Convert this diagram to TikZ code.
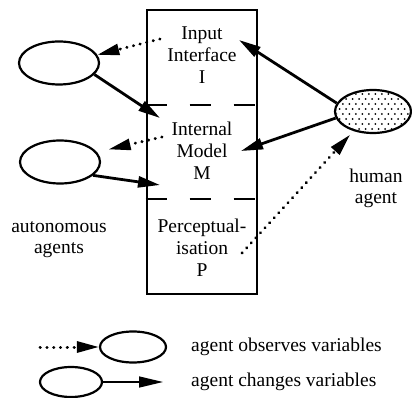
\documentclass[tikz,border=0pt]{standalone}
\usepackage{fontspec}
\setmainfont{Liberation Serif}
\usetikzlibrary{arrows.meta,shapes.geometric}
\begin{document}
\begin{tikzpicture}[x=1pt,y=-1pt,
  agent/.style={draw, line width=2.2pt, ellipse, minimum width=80pt, minimum height=43pt, inner sep=0},
  legagent/.style={draw, line width=2.2pt, ellipse, minimum width=64pt, minimum height=30pt, inner sep=0},
  boxtext/.style={align=center, inner sep=0, font=\fontsize{19.5}{22}\selectfont},
  label/.style={align=center, inner sep=0, font=\fontsize{19.5}{21}\selectfont},
  divider/.style={line width=2.4pt, dash pattern=on 21pt off 23pt},
  head/.style={-{Triangle[length=22pt,width=11pt]}},
  solidarrow/.style={head, line width=2.8pt},
  dotarrow/.style={head, line width=3pt, line cap=round, dash pattern=on 0.3pt off 6.5pt},
  ]
\useasboundingbox (0,0) rectangle (412,398);

% central box
\node[draw, line width=2.8pt, minimum width=110pt, minimum height=284pt, inner sep=0] (box) at (202,152) {};
\draw[divider] (box.west |- 0,105) -- (box.east |- 0,105);
\draw[divider] (box.west |- 0,199) -- (box.east |- 0,199);

\node[boxtext] (inp) at (202,55) {Input\\Interface\\I};
\node[boxtext] (mod) at (202,151) {Internal\\Model\\M};
\node[boxtext] (per) at (202,248) {Perceptual-\\isation\\P};

% autonomous agents
\node[agent] (a1) at (59,63) {};
\node[agent] (a2) at (60,162) {};
\node[label] (auto) at (59,240) {autonomous\\agents};

% human agent
\node[agent, minimum width=76pt, minimum height=43pt] (human) at (373,111.5) {};
\begin{scope}
  \clip (human.center) ellipse [x radius=37, y radius=20.5];
  \foreach \j in {0,...,9} {
    \foreach \i in {0,...,13} {
      \fill ({333+\i*6.5+mod(\j,2)*3.25}, {89+\j*5}) circle (1pt);
    }
  }
\end{scope}
\node[label] (hum) at (376,188) {human\\agent};

% connectors
\coordinate (d1) at (160,39);
\coordinate (s1) at (160,118);
\coordinate (d2) at (162,137);
\coordinate (s2) at (160,185);
\coordinate (h1) at (239,40);
\coordinate (h2) at (241,151);
\coordinate (d3) at (242,253);

\draw[dotarrow] (d1) -- (a1.12);
\draw[solidarrow] (a1.-18) -- (s1);
\draw[dotarrow, shorten >=12pt] (d2) -- (a2.15);
\draw[solidarrow] (a2.-22) -- (s2);
\draw[solidarrow] (human.167) -- (h1);
\draw[solidarrow] (human.190) -- (h2);
\draw[dotarrow, shorten >=5pt] (d3) -- (human.225);

% legend
\node[legagent, minimum width=66pt, minimum height=31pt] (l1) at (133,347) {};
\node[legagent, minimum width=62pt] (l2) at (71,382) {};
\coordinate (ld) at (40,347);
\coordinate (lt) at (163,382);
\draw[dotarrow] (ld) -- (l1.west);
\draw[-{Triangle[length=24pt,width=11pt]}, line width=1.5pt] (l2.east) -- (lt);
\node[label, anchor=west] (t1) at (191,347) {agent observes variables};
\node[label, anchor=west] (t2) at (191,382) {agent changes variables};
\end{tikzpicture}
\end{document}
